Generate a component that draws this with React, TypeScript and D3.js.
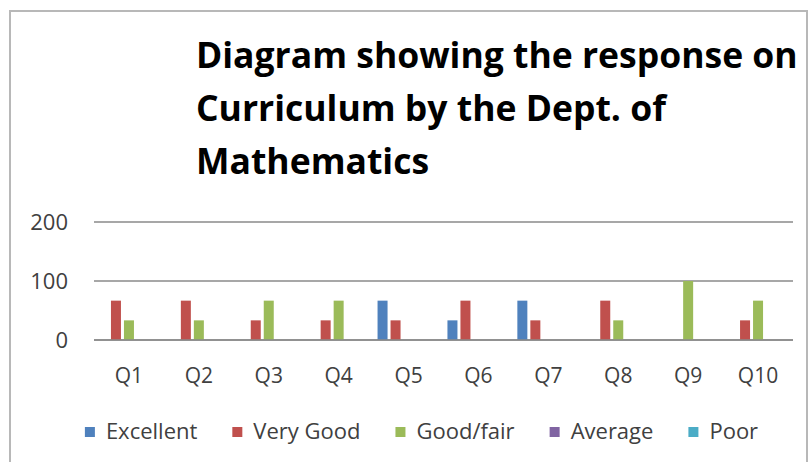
import React, { useEffect, useRef } from "react";
import * as d3 from "d3";

const categories = ["Q1", "Q2", "Q3", "Q4", "Q5", "Q6", "Q7", "Q8", "Q9", "Q10"];
const seriesNames = ["Excellent", "Very Good", "Good/fair", "Average", "Poor"];
const seriesColors = ["#4F81BD", "#C0504D", "#9BBB59", "#8064A2", "#4BACC6"];
const excellent = [0, 0, 0, 0, 66.7, 33.3, 66.7, 0, 0, 0];
const veryGood = [66.7, 66.7, 33.3, 33.3, 33.3, 66.7, 33.3, 66.7, 0, 33.3];
const goodFair = [33.3, 33.3, 66.7, 66.7, 0, 0, 0, 33.3, 100, 66.7];
const average = [0, 0, 0, 0, 0, 0, 0, 0, 0, 0];
const poor = [0, 0, 0, 0, 0, 0, 0, 0, 0, 0];
const yTicks = [0, 100, 200];
const titleLines = ["Diagram showing the response on", "Curriculum by the Dept. of", "Mathematics"];

const W = 812;
const H = 462;

export default function App() {
  const ref = useRef<SVGSVGElement>(null);

  useEffect(() => {
    const svg = d3.select(ref.current);
    svg.selectAll("*").remove();

    const font = "'Open Sans', 'Noto Sans', sans-serif";
    const values = [excellent, veryGood, goodFair, average, poor];

    // frame
    svg.append("rect")
      .attr("x", 10).attr("y", 11).attr("width", 797).attr("height", 470)
      .attr("fill", "#ffffff").attr("stroke", "#b8b8b8").attr("stroke-width", 2);

    // title
    const title = svg.append("text")
      .attr("font-family", font).attr("font-weight", 700).attr("font-size", 35.5)
      .attr("fill", "#000000");
    titleLines.forEach((line, i) => {
      title.append("tspan").attr("x", 196).attr("y", 68 + i * 53).text(line);
    });

    const plotLeft = 94, plotRight = 793, plotTop = 222, plotBottom = 340;
    const x0 = d3.scaleBand<string>().domain(categories).range([plotLeft, plotRight]).padding(0);
    const groupW = 62;
    const x1 = d3.scaleBand<string>().domain(seriesNames).range([0, groupW]).paddingInner(3 / 13).paddingOuter(0);
    const y = d3.scaleLinear().domain([0, 200]).range([plotBottom, plotTop]);

    // gridlines
    svg.append("g").selectAll("line").data(yTicks).join("line")
      .attr("x1", plotLeft).attr("x2", plotRight)
      .attr("y1", (d) => y(d)).attr("y2", (d) => y(d))
      .attr("stroke", "#8a8a8a").attr("stroke-width", 1.6);

    // y labels
    svg.append("g").selectAll("text").data(yTicks).join("text")
      .attr("x", 68).attr("y", (d) => y(d)).attr("dy", "0.35em")
      .attr("text-anchor", "end").attr("font-family", font).attr("font-size", 22)
      .attr("fill", "#404040").text((d) => String(d));

    // bars
    const offset = (x0.bandwidth() - groupW) / 2;
    const bars: { cat: string; s: string; v: number; c: string }[] = [];
    categories.forEach((cat, ci) => {
      seriesNames.forEach((s, si) => {
        const v = values[si][ci];
        if (v > 0) bars.push({ cat, s, v, c: seriesColors[si] });
      });
    });
    svg.append("g").selectAll("rect").data(bars).join("rect")
      .attr("x", (d) => (x0(d.cat) as number) + offset + (x1(d.s) as number))
      .attr("y", (d) => y(d.v))
      .attr("width", x1.bandwidth())
      .attr("height", (d) => y(0) - y(d.v))
      .attr("fill", (d) => d.c);

    // redraw baseline on top
    svg.append("line")
      .attr("x1", plotLeft).attr("x2", plotRight).attr("y1", y(0)).attr("y2", y(0))
      .attr("stroke", "#8a8a8a").attr("stroke-width", 1.6);

    // x labels
    svg.append("g").selectAll("text").data(categories).join("text")
      .attr("x", (d) => (x0(d) as number) + x0.bandwidth() / 2)
      .attr("y", 383).attr("text-anchor", "middle")
      .attr("font-family", font).attr("font-size", 21).attr("fill", "#404040")
      .text((d) => d);

    // legend
    const lg = svg.append("g");
    let cx = 0;
    const sq = 10, gapText = 11, gapItem = 35;
    seriesNames.forEach((name, i) => {
      lg.append("rect").attr("x", cx).attr("y", 427).attr("width", sq).attr("height", sq)
        .attr("fill", seriesColors[i]);
      const t = lg.append("text").attr("x", cx + sq + gapText).attr("y", 439)
        .attr("font-family", font).attr("font-size", 22).attr("fill", "#404040").text(name);
      const tw = (t.node() as SVGTextElement).getComputedTextLength();
      cx += sq + gapText + tw + (i < seriesNames.length - 1 ? gapItem : 0);
    });
    const legendCenter = (85 + 758) / 2;
    lg.attr("transform", `translate(${legendCenter - cx / 2},0)`);
  }, []);

  return (
    <svg ref={ref} width={W} height={H} style={{ position: "absolute", left: 0, top: 0, background: "#fff" }} />
  );
}
